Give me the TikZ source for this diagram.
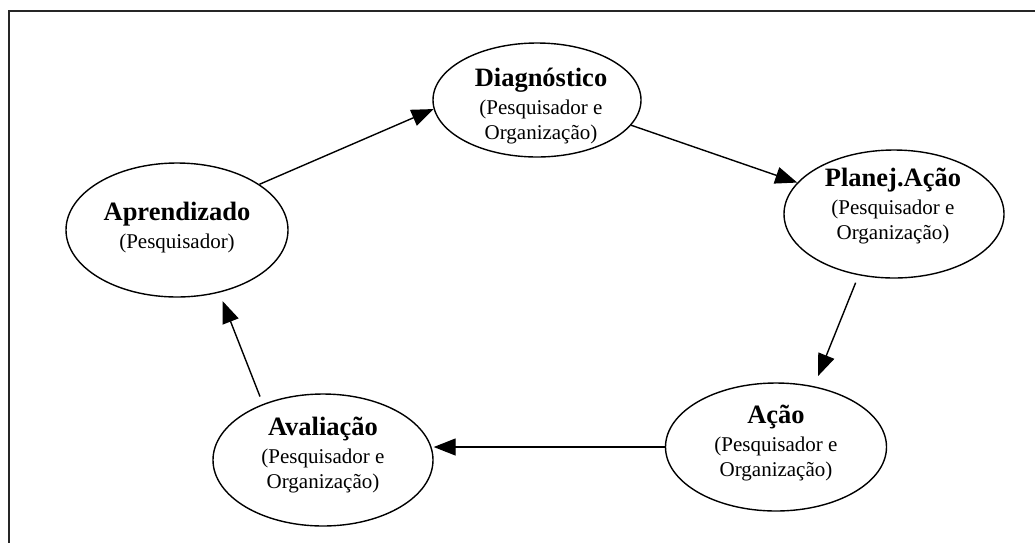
\documentclass[tikz,border=0pt]{standalone}
\usepackage{fontspec}
\setmainfont{Liberation Serif}
\usetikzlibrary{shapes.geometric,arrows.meta}
\newcommand\stagetitle[1]{{\fontsize{26.5}{28}\selectfont\bfseries #1}}
\begin{document}
\begin{tikzpicture}[x=1pt,y=-1pt,
  stage/.style={ellipse,draw,line width=1.4pt,inner sep=0pt},
  txt/.style={inner sep=0pt,align=center,font=\fontsize{21}{25}\selectfont},
  arr/.style={line width=1.4pt,-{Triangle[length=22pt,width=17pt]}},
  frame/.style={line width=2.2pt,black!85}]
\useasboundingbox (0,0) rectangle (1035,542);
\coordinate (fa) at (9,550);
\coordinate (fb) at (9,11);
\coordinate (fc) at (1045,11);
\draw[frame] (fa) -- (fb) -- (fc);

\node[stage,minimum width=208,minimum height=114] (diag) at (537,100) {};
\node[stage,minimum width=220,minimum height=128] (planej) at (894,214) {};
\node[stage,minimum width=221,minimum height=128] (acao) at (776,447) {};
\node[stage,minimum width=220,minimum height=132] (aval) at (323,460) {};
\node[stage,minimum width=222,minimum height=134] (aprend) at (177,230) {};

\node[txt] (diagT) at (541,106) {\stagetitle{Diagnóstico}\\[3pt](Pesquisador e\\Organização)};
\node[txt] (planejT) at (893,206) {\stagetitle{Planej.Ação}\\[3pt](Pesquisador e\\Organização)};
\node[txt] (acaoT) at (776,443) {\stagetitle{Ação}\\[3pt](Pesquisador e\\Organização)};
\node[txt] (avalT) at (323,455) {\stagetitle{Avaliação}\\[3pt](Pesquisador e\\Organização)};
\node[txt] (aprendT) at (177,228) {\stagetitle{Aprendizado}\\[3pt](Pesquisador)};

\draw[arr] (aprend.29) -- (diag.185);
\draw[arr] (diag.-15) -- (planej.162);
\draw[arr,shorten <=8pt,shorten >=11pt] (planej.240) -- (acao.58);
\draw[arr] (acao.west) -- (aval.east |- acao.west);
\draw[arr,shorten <=8pt,shorten >=9pt] (aval.137) -- (aprend.-56);
\end{tikzpicture}
\end{document}
